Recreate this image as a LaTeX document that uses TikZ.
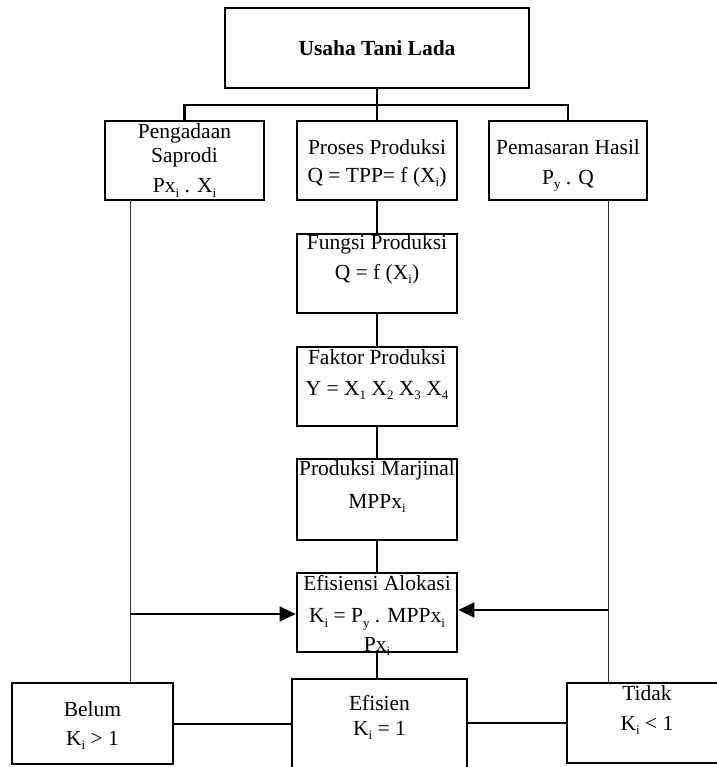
\documentclass[tikz,border=0pt]{standalone}
\usepackage{fontspec}
\setmainfont{Liberation Serif}
\usetikzlibrary{arrows.meta}
\newcommand{\lowsub}[1]{\raisebox{-4.5pt}[0pt][0pt]{\fontsize{13}{13}\selectfont #1}}
\begin{document}
\begin{tikzpicture}[x=1pt,y=-1pt,
  box/.style={draw, line width=2.6pt, inner sep=0pt},
  txt/.style={inner sep=0pt, font=\fontsize{21.5}{21.5}\selectfont},
  tree/.style={line width=2.6pt},
  thinline/.style={line width=1pt, black!80},
  arr/.style={line width=1.5pt, -{Triangle[length=16pt,width=15pt]}}]
\useasboundingbox (0,0) rectangle (716,767);
% boxes
\node[box, minimum width=304pt, minimum height=80pt] (top) at (377,48) {};
\node[box, minimum width=159pt, minimum height=79pt] (peng) at (184.5,160.5) {};
\node[box, minimum width=160pt, minimum height=79pt] (pros) at (377,160.5) {};
\node[box, minimum width=158pt, minimum height=79pt] (pema) at (568,160.5) {};
\node[box, minimum width=160pt, minimum height=79pt] (fung) at (377,273.5) {};
\node[box, minimum width=160pt, minimum height=79pt] (fakt) at (377,386.5) {};
\node[box, minimum width=160pt, minimum height=81pt] (marj) at (377,499.5) {};
\node[box, minimum width=160pt, minimum height=79pt] (efa) at (377,612.5) {};
\node[box, minimum width=161pt, minimum height=81pt] (belum) at (92.5,723.5) {};
\node[box, minimum width=175pt, minimum height=94pt] (efis) at (379.5,726) {};
\node[box, minimum width=160pt, minimum height=80pt] (tidak) at (647,723) {};
% texts
\node[txt, font=\fontsize{21.5}{21.5}\selectfont\bfseries] (t-top) at (377,48) {Usaha Tani Lada};
\node[txt] (t-peng1) at (184.5,133) {Pengadaan};
\node[txt] (t-peng2) at (184.5,157) {Saprodi};
\node[txt] (t-peng3) at (184.5,186) {Px\lowsub{i} . X\lowsub{i}};
\node[txt] (t-pros1) at (377,147) {Proses Produksi};
\node[txt] (t-pros2) at (377,177) {Q = TPP= f (X\lowsub{i})};
\node[txt] (t-pema1) at (568,147) {Pemasaran Hasil};
\node[txt] (t-pema2) at (568,179) {P\lowsub{y} . Q};
\node[txt] (t-fung1) at (377,244) {Fungsi Produksi};
\node[txt] (t-fung2) at (377,274) {Q = f (X\lowsub{i})};
\node[txt] (t-fakt1) at (377,357) {Faktor Produksi};
\node[txt] (t-fakt2) at (377,388) {Y = X\lowsub{1} X\lowsub{2} X\lowsub{3} X\lowsub{4}};
\node[txt] (t-marj1) at (377,470) {Produksi Marjinal};
\node[txt] (t-marj2) at (377,501) {MPPx\lowsub{i}};
\node[txt] (t-efa1) at (377,583) {Efisiensi Alokasi};
\node[txt] (t-efa2) at (377,616) {K\lowsub{i} = P\lowsub{y} . MPPx\lowsub{i}};
\node[txt] (t-efa3) at (377,644) {Px\lowsub{i}};
\node[txt] (t-bel1) at (92.5,709) {Belum};
\node[txt] (t-bel2) at (92.5,738) {K\lowsub{i} > 1};
\node[txt] (t-efi1) at (379.5,703) {Efisien};
\node[txt] (t-efi2) at (379.5,728) {K\lowsub{i} = 1};
\node[txt] (t-tid1) at (647,693) {Tidak};
\node[txt] (t-tid2) at (647,723) {K\lowsub{i} < 1};
% tree connectors
\coordinate (bar) at (377,105);
\draw[tree] (top.south) -- (bar);
\draw[tree] (peng.north) |- (bar) -| (pema.north);
\draw[tree] (bar) -- (pros.north);
\draw[tree] (pros.south) -- (fung.north);
\draw[tree] (fung.south) -- (fakt.north);
\draw[tree] (fakt.south) -- (marj.north);
\draw[tree] (marj.south) -- (efa.north);
\draw[tree] (efa.south) -- (efa.south |- efis.north);
\draw[tree] (belum.east |- 0,724) coordinate (bl) -- (efis.west |- bl);
\draw[tree] (efis.east |- 0,723) coordinate (tl) -- (tidak.west |- tl);
% side lines
\coordinate (ls) at (130,200);
\coordinate (rs) at (608,200);
\draw[thinline] (ls) -- (ls |- belum.north);
\draw[thinline] (rs) -- (rs |- tidak.north);
\coordinate (la) at (130,614);
\coordinate (ra) at (608,610);
\draw[arr] (la) -- (efa.west |- la);
\draw[arr] (ra) -- (efa.east |- ra);
\end{tikzpicture}
\end{document}
